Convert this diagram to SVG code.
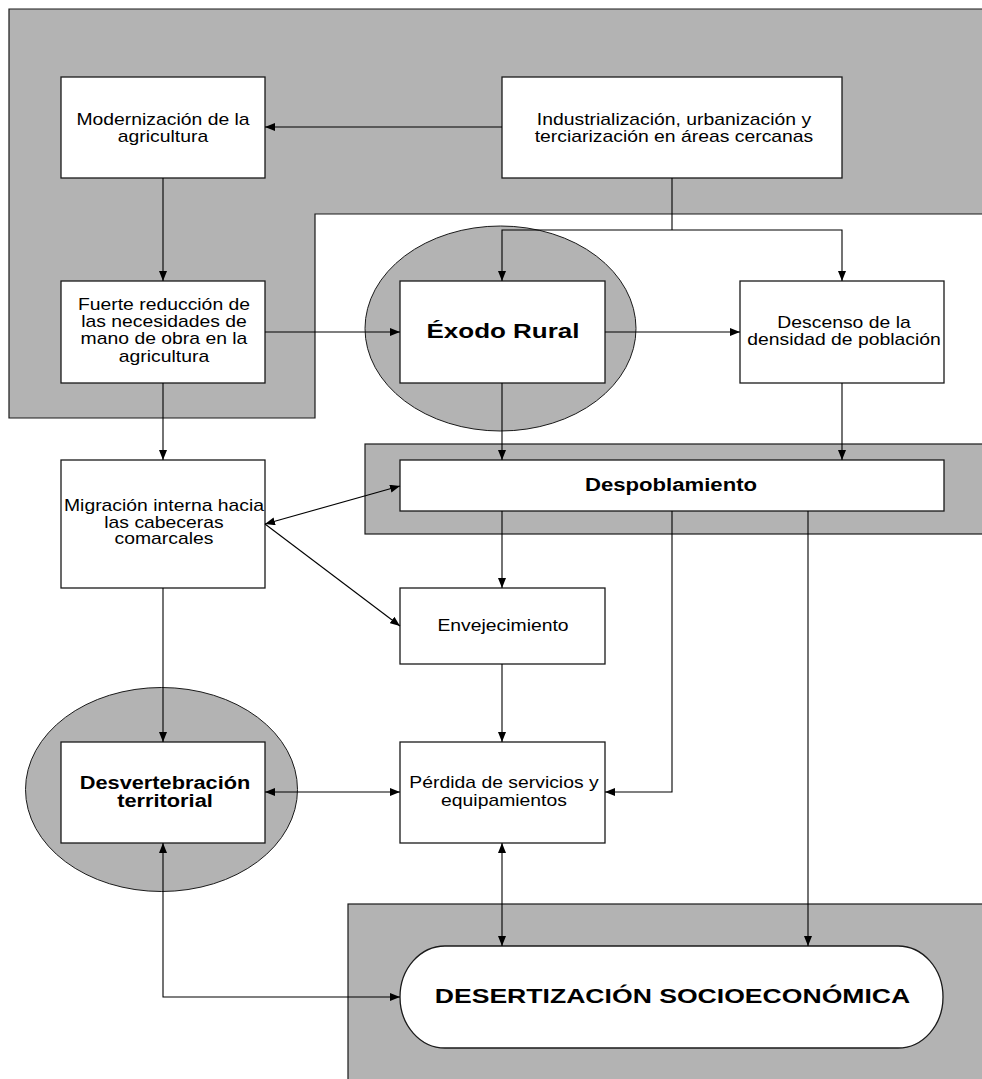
<svg xmlns="http://www.w3.org/2000/svg" width="982" height="1079" viewBox="0 0 982 1079">
<defs>
<style>
.bg{fill:#b3b3b3;stroke:#1a1a1a;stroke-width:1.2}
.box{fill:#fff;stroke:#1a1a1a;stroke-width:1.3}
.ell{fill:#b3b3b3;stroke:#1a1a1a;stroke-width:1}
.c{fill:none;stroke:#000;stroke-width:1.1}
.t{font-family:"Liberation Sans",Arial,sans-serif;font-size:16px;fill:#000;text-anchor:middle}
.b{font-weight:bold}
</style>
<marker id="ah" viewBox="0 0 10 8" refX="10" refY="4" markerWidth="10" markerHeight="8" markerUnits="userSpaceOnUse" orient="auto-start-reverse">
<path d="M0,0 L10,4 L0,8 z" fill="#000"/>
</marker>
</defs>
<rect width="982" height="1079" fill="#fff"/>
<g id="backgrounds">
<path class="bg" d="M9,9 H995 V214 H315 V418 H9 Z"/>
<rect class="bg" x="365" y="444" width="630" height="90"/>
<rect class="bg" x="348" y="904" width="650" height="190"/>
<ellipse class="ell" cx="500.5" cy="328.5" rx="135.5" ry="102.5"/>
<ellipse class="ell" cx="161.5" cy="789.5" rx="136" ry="102"/>
</g>
<g id="n-modernizacion">
<rect class="box" x="61" y="77" width="204" height="101"/>
<text class="t" transform="translate(163 0) scale(1.21 1)"><tspan x="0" y="125">Modernización de la</tspan><tspan x="0" y="142">agricultura</tspan></text>
</g>
<g id="n-industrializacion">
<rect class="box" x="502" y="77" width="340" height="101"/>
<text class="t" transform="translate(674 0) scale(1.21 1)"><tspan x="0" y="125">Industrialización, urbanización y</tspan><tspan x="0" y="142">terciarización en áreas cercanas</tspan></text>
</g>
<g id="n-fuerte">
<rect class="box" x="61" y="281" width="204" height="102"/>
<text class="t" transform="translate(164 0) scale(1.21 1)"><tspan x="0" y="310">Fuerte reducción de</tspan><tspan x="0" y="327.3">las necesidades de</tspan><tspan x="0" y="344.5">mano de obra en la</tspan><tspan x="0" y="361.7">agricultura</tspan></text>
</g>
<g id="n-exodo">
<rect class="box" x="400" y="281" width="205" height="102"/>
<text class="t b" style="font-size:20px" transform="translate(503 0) scale(1.3 1)"><tspan x="0" y="338">Éxodo Rural</tspan></text>
</g>
<g id="n-descenso">
<rect class="box" x="740" y="281" width="204" height="102"/>
<text class="t" transform="translate(844 0) scale(1.21 1)"><tspan x="0" y="328">Descenso de la</tspan><tspan x="0" y="345.5">densidad de población</tspan></text>
</g>
<g id="n-despoblamiento">
<rect class="box" x="400" y="460" width="544" height="51"/>
<text class="t b" style="font-size:18px" transform="translate(671 0) scale(1.23 1)"><tspan x="0" y="491.5">Despoblamiento</tspan></text>
</g>
<g id="n-migracion">
<rect class="box" x="61" y="460" width="204" height="128"/>
<text class="t" transform="translate(164 0) scale(1.21 1)"><tspan x="0" y="510.7">Migración interna hacia</tspan><tspan x="0" y="527.7">las cabeceras</tspan><tspan x="0" y="544.5">comarcales</tspan></text>
</g>
<g id="n-envejecimiento">
<rect class="box" x="400" y="588" width="205" height="76"/>
<text class="t" transform="translate(503 0) scale(1.21 1)"><tspan x="0" y="631">Envejecimiento</tspan></text>
</g>
<g id="n-desvertebracion">
<rect class="box" x="61" y="742" width="204" height="101"/>
<text class="t b" style="font-size:18px" transform="translate(165 0) scale(1.21 1)"><tspan x="0" y="789.3">Desvertebración</tspan><tspan x="0" y="807.3">territorial</tspan></text>
</g>
<g id="n-perdida">
<rect class="box" x="400" y="742" width="205" height="101"/>
<text class="t" transform="translate(504 0) scale(1.21 1)"><tspan x="0" y="788.3">Pérdida de servicios y</tspan><tspan x="0" y="806">equipamientos</tspan></text>
</g>
<g id="n-desertizacion">
<rect class="box" x="400" y="946" width="543" height="102" rx="45" ry="51"/>
<text class="t b" style="font-size:20px" transform="translate(672.5 0) scale(1.33 1)"><tspan x="0" y="1003.3">DESERTIZACIÓN SOCIOECONÓMICA</tspan></text>
</g>
<g id="connectors">
<path class="c" d="M502,127 H265" marker-end="url(#ah)"/>
<path class="c" d="M163,178 V281" marker-end="url(#ah)"/>
<path class="c" d="M672,178 V230"/>
<path class="c" d="M672,230 H502 V281" marker-end="url(#ah)"/>
<path class="c" d="M672,230 H842 V281" marker-end="url(#ah)"/>
<path class="c" d="M265,332 H400" marker-end="url(#ah)"/>
<path class="c" d="M605,332 H740" marker-end="url(#ah)"/>
<path class="c" d="M163,383 V460" marker-end="url(#ah)"/>
<path class="c" d="M502,383 V460" marker-end="url(#ah)"/>
<path class="c" d="M842,383 V460" marker-end="url(#ah)"/>
<path class="c" d="M265,524 L400,486" marker-start="url(#ah)" marker-end="url(#ah)"/>
<path class="c" d="M265,524 L400,626" marker-end="url(#ah)"/>
<path class="c" d="M502,511 V588" marker-end="url(#ah)"/>
<path class="c" d="M502,664 V742" marker-end="url(#ah)"/>
<path class="c" d="M672,511 V792 H605" marker-end="url(#ah)"/>
<path class="c" d="M808,511 V946" marker-end="url(#ah)"/>
<path class="c" d="M163,588 V742" marker-end="url(#ah)"/>
<path class="c" d="M265,792 H400" marker-start="url(#ah)" marker-end="url(#ah)"/>
<path class="c" d="M502,843 V946" marker-start="url(#ah)" marker-end="url(#ah)"/>
<path class="c" d="M163,843 V997 H400" marker-start="url(#ah)" marker-end="url(#ah)"/>
</g>
</svg>
